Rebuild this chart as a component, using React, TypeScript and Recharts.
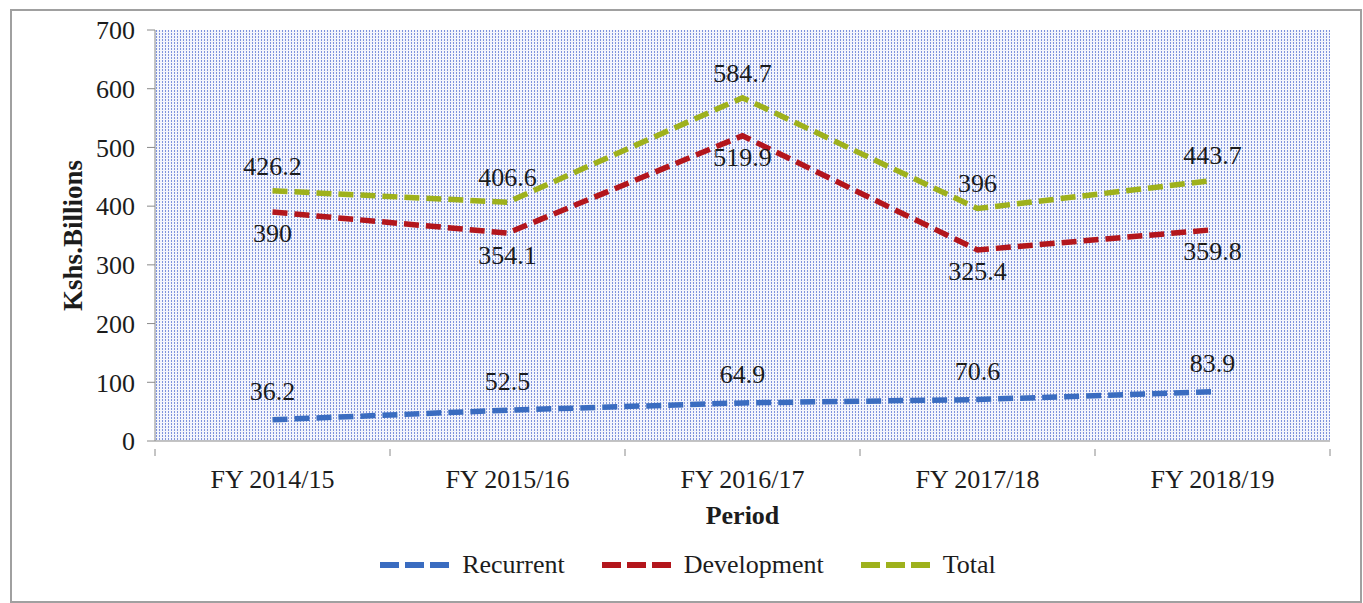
import { LineChart, Line, XAxis, YAxis, CartesianGrid, LabelList } from "recharts";

const periods = ["FY 2014/15", "FY 2015/16", "FY 2016/17", "FY 2017/18", "FY 2018/19"];
const recurrent = [36.2, 52.5, 64.9, 70.6, 83.9];
const development = [390, 354.1, 519.9, 325.4, 359.8];
const total = [426.2, 406.6, 584.7, 396, 443.7];
const yTicks = [0, 100, 200, 300, 400, 500, 600, 700];

const FONT = '"Liberation Serif", "Times New Roman", serif';
const TEXT = "#1c1c1c";
const AXIS = "#8a8a8a";

const W = 1363;
const H = 603;
const MARGIN = { top: 30, right: 33, left: 40, bottom: 72 };
const Y_AXIS_W = 115;
const PLOT_W = W - MARGIN.left - MARGIN.right - Y_AXIS_W;
const HALF_BAND = PLOT_W / periods.length / 2;

const series = [
  { key: "recurrent", name: "Recurrent", color: "#3a6cc0", labelPos: "top", labelOffset: 20 },
  { key: "development", name: "Development", color: "#b3161c", labelPos: "bottom", labelOffset: 12 },
  { key: "total", name: "Total", color: "#9eb11c", labelPos: "top", labelOffset: 16 },
] as const;

const data = periods.map((p, i) => ({
  period: p,
  recurrent: recurrent[i],
  development: development[i],
  total: total[i],
}));

// category tick: label in the middle of the band, tick marks on the band edges (Excel style)
const PeriodTick = (props: any) => {
  const { x, y, payload, index } = props;
  const last = index === periods.length - 1;
  return (
    <g>
      <line x1={x - HALF_BAND} y1={y} x2={x - HALF_BAND} y2={y + 7} stroke={AXIS} />
      {last && <line x1={x + HALF_BAND} y1={y} x2={x + HALF_BAND} y2={y + 7} stroke={AXIS} />}
      <text x={x} y={y + 39} textAnchor="middle" fontSize={26} fill={TEXT} fontFamily={FONT}>
        {payload.value}
      </text>
    </g>
  );
};

const ChartLegend = () => (
  <div
    style={{
      position: "absolute",
      left: 0,
      top: 550,
      width: W,
      display: "flex",
      justifyContent: "center",
      alignItems: "center",
      gap: 36,
      fontFamily: FONT,
      fontSize: 26,
      color: TEXT,
      paddingLeft: 12,
      boxSizing: "border-box",
    }}
  >
    {series.map((s) => (
      <div key={s.key} style={{ display: "flex", alignItems: "center", gap: 11 }}>
        <svg width={72} height={10}>
          <line x1={1} y1={5} x2={71} y2={5} stroke={s.color} strokeWidth={6} strokeDasharray="19 6" />
        </svg>
        <span>{s.name}</span>
      </div>
    ))}
  </div>
);

export default function App() {
  return (
    <div style={{ position: "absolute", left: 0, top: 0, width: W, height: H, background: "#fff" }}>
      <div
        style={{
          position: "absolute",
          left: 10,
          top: 9,
          width: 1348,
          height: 590,
          border: "2px solid #a0a0a0",
        }}
      />
      <LineChart
        width={W}
        height={H}
        data={data}
        margin={MARGIN}
        style={{ position: "absolute", left: 0, top: 0, fontFamily: FONT }}
      >
        <defs>
          <pattern id="dots" width={3} height={3} patternUnits="userSpaceOnUse">
            <rect x={0} y={0} width={3} height={3} fill="#f3f5fc" />
            <rect x={0} y={0} width={1} height={2} fill="#7f93dc" />
          </pattern>
        </defs>
        <CartesianGrid horizontal={false} vertical={false} fill="url(#dots)" fillOpacity={1} />
        <XAxis
          dataKey="period"
          height={90}
          padding={{ left: HALF_BAND, right: HALF_BAND }}
          stroke={AXIS}
          tickLine={false}
          tick={<PeriodTick />}
          interval={0}
          label={{
            value: "Period",
            position: "insideBottom",
            offset: 7,
            style: { fontSize: 26, fontWeight: "bold", fill: TEXT, fontFamily: FONT },
          }}
        />
        <YAxis
          domain={[0, 700]}
          ticks={yTicks}
          width={Y_AXIS_W}
          tickSize={8}
          tickMargin={12}
          stroke={AXIS}
          tick={{ fontSize: 26, fill: TEXT, fontFamily: FONT }}
          label={{
            value: "Kshs.Billions",
            angle: -90,
            position: "insideLeft",
            offset: 32,
            style: { textAnchor: "middle", fontSize: 27, fontWeight: "bold", fill: TEXT, fontFamily: FONT },
          }}
        />
        {series.map((s) => (
          <Line
            key={s.key}
            dataKey={s.key}
            name={s.name}
            stroke={s.color}
            strokeWidth={5.5}
            strokeDasharray="15 7"
            dot={false}
            isAnimationActive={false}
          >
            <LabelList
              dataKey={s.key}
              position={s.labelPos}
              offset={s.labelOffset}
              fontSize={26}
              fill={TEXT}
              fontFamily={FONT}
            />
          </Line>
        ))}
      </LineChart>
      <ChartLegend />
    </div>
  );
}
